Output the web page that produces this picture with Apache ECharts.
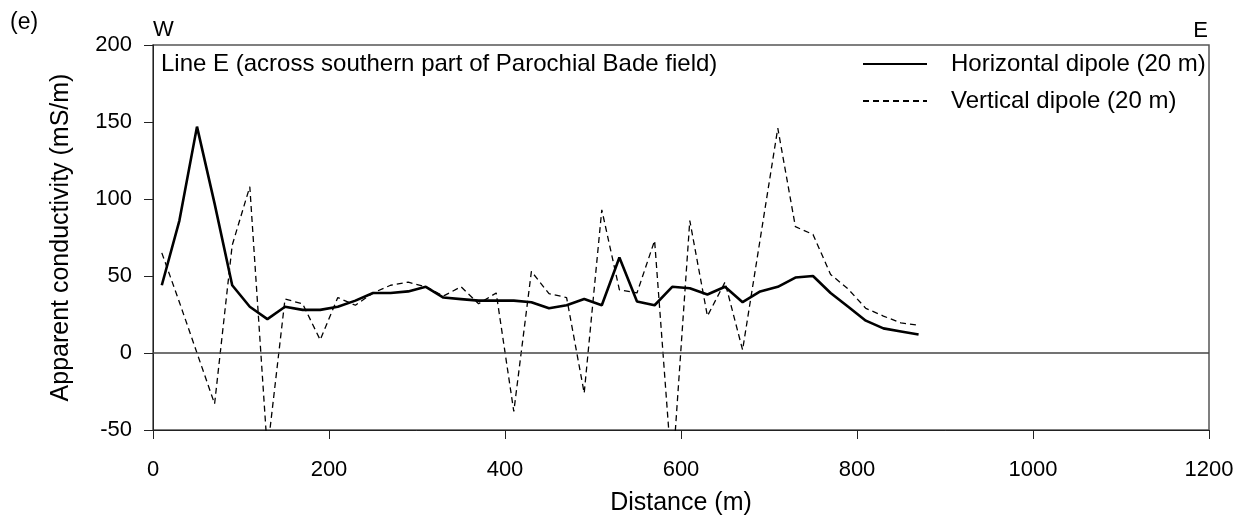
<!DOCTYPE html>
<html>
<head>
<meta charset="utf-8">
<script src="https://cdn.jsdelivr.net/npm/echarts@6/dist/echarts.min.js"></script>
<style>
html,body{margin:0;padding:0;background:#fff;}
#chart{width:1247px;height:522px;}
</style>
</head>
<body>
<div id="chart"></div>
<script>
// Distance along line (m)
var distances = [10, 30, 50, 70, 90, 110, 130, 150, 170, 190, 210, 230, 250, 270, 290, 310, 330, 350, 370, 390, 410, 430, 450, 470, 490, 510, 530, 550, 570, 590, 610, 630, 650, 670, 690, 710, 730, 750, 770, 790, 810, 830, 850, 870];
// Apparent conductivity (mS/m), horizontal dipole (20 m)
var horizontalDipole = [44, 86, 147, 97, 44, 30, 22, 30, 28, 28, 30, 34, 39, 39, 40, 43, 36, 35, 34, 34, 34, 33, 29, 31, 35, 31, 62, 33.5, 31, 43, 42, 38, 43, 33, 40, 43, 49, 50, 39, 30, 21, 16, 14, 12];
// Apparent conductivity (mS/m), vertical dipole (20 m)
var verticalDipole = [65, 33, 0, -33, 70, 108, -64, 35, 32, 8.5, 36, 31, 39, 44, 46, 43, 37, 43, 32, 39, -38, 53, 38.5, 36, -26, 93, 41, 39, 73, -80, 86, 24, 46, 2, 74, 146, 82, 77, 51, 41.5, 29, 24, 19.5, 18];

var seriesNames = ['Horizontal dipole (20 m)', 'Vertical dipole (20 m)'];
var panelLabel = '(e)';
var westLabel = 'W';
var eastLabel = 'E';
var titleText = 'Line E (across southern part of Parochial Bade field)';
var xName = 'Distance (m)';
var yName = 'Apparent conductivity (mS/m)';

function pairs(xs, ys) {
  var out = [];
  for (var i = 0; i < xs.length; i++) out.push([xs[i], ys[i]]);
  return out;
}

var FONT = 'Liberation Sans, Arial, Helvetica, sans-serif';
var chart = echarts.init(document.getElementById('chart'), null, {renderer: 'canvas'});

var option = {
  backgroundColor: '#ffffff',
  animation: false,
  textStyle: {fontFamily: FONT, color: '#000'},
  grid: {
    left: 153, right: 38, top: 45, bottom: 92,
    show: true, borderColor: '#555', borderWidth: 1.5, backgroundColor: 'transparent'
  },
  legend: {
    orient: 'vertical',
    left: 862, top: 52,
    padding: 0,
    itemWidth: 64, itemHeight: 14, itemGap: 13,
    data: seriesNames,
    itemStyle: {opacity: 0, color: 'transparent', borderWidth: 0},
    textStyle: {fontFamily: FONT, fontSize: 24, color: '#000', lineHeight: 24, padding: [0, 0, 0, 19]},
    selectedMode: false
  },
  xAxis: {
    type: 'value', min: 0, max: 1200, interval: 200,
    name: xName, nameLocation: 'middle', nameGap: 61,
    nameTextStyle: {fontFamily: FONT, fontSize: 25, color: '#000'},
    axisLine: {show: true, onZero: false, lineStyle: {color: '#222', width: 1}},
    axisTick: {show: true, inside: false, length: 9, lineStyle: {color: '#222', width: 1}},
    axisLabel: {fontFamily: FONT, fontSize: 22, color: '#000', margin: 29, formatter: function (v) { return String(v); }},
    splitLine: {show: false}
  },
  yAxis: {
    type: 'value', min: -50, max: 200, interval: 50,
    name: yName, nameLocation: 'middle', nameGap: 79, nameRotate: 90,
    nameTextStyle: {fontFamily: FONT, fontSize: 25, color: '#000'},
    axisLine: {show: true, onZero: false, lineStyle: {color: '#222', width: 1}},
    axisTick: {show: true, inside: false, length: 9, lineStyle: {color: '#222', width: 1}},
    axisLabel: {fontFamily: FONT, fontSize: 22, color: '#000', margin: 21, formatter: function (v) { return String(v); }},
    splitLine: {show: false}
  },
  series: [
    {
      name: seriesNames[0], type: 'line', data: pairs(distances, horizontalDipole),
      symbol: 'none', showSymbol: false, clip: true,
      lineStyle: {color: '#000', width: 2.6, type: 'solid'},
      itemStyle: {color: '#000'},
      z: 3,
      markLine: {
        silent: true, symbol: ['none', 'none'], animation: false,
        label: {show: false},
        lineStyle: {color: '#444', width: 1.5, type: 'solid'},
        data: [{yAxis: 0}]
      }
    },
    {
      name: seriesNames[1], type: 'line', data: pairs(distances, verticalDipole),
      symbol: 'none', showSymbol: false, clip: true,
      lineStyle: {color: '#000', width: 1.3, type: [6, 4]},
      itemStyle: {color: '#000'},
      z: 2
    }
  ],
  graphic: [
    {type: 'text', left: 10, top: 11, style: {text: panelLabel, font: '23px ' + FONT, fill: '#000'}},
    {type: 'text', x: 153, y: 30, style: {text: westLabel, font: '22px ' + FONT, fill: '#000', verticalAlign: 'middle', align: 'left'}},
    {type: 'text', x: 1208, y: 31, style: {text: eastLabel, font: '22px ' + FONT, fill: '#000', verticalAlign: 'middle', align: 'right'}},
    {type: 'text', x: 161, y: 64, style: {text: titleText, font: '24px ' + FONT, fill: '#000', verticalAlign: 'middle', align: 'left'}}
  ]
};
chart.setOption(option);
</script>
</body>
</html>
